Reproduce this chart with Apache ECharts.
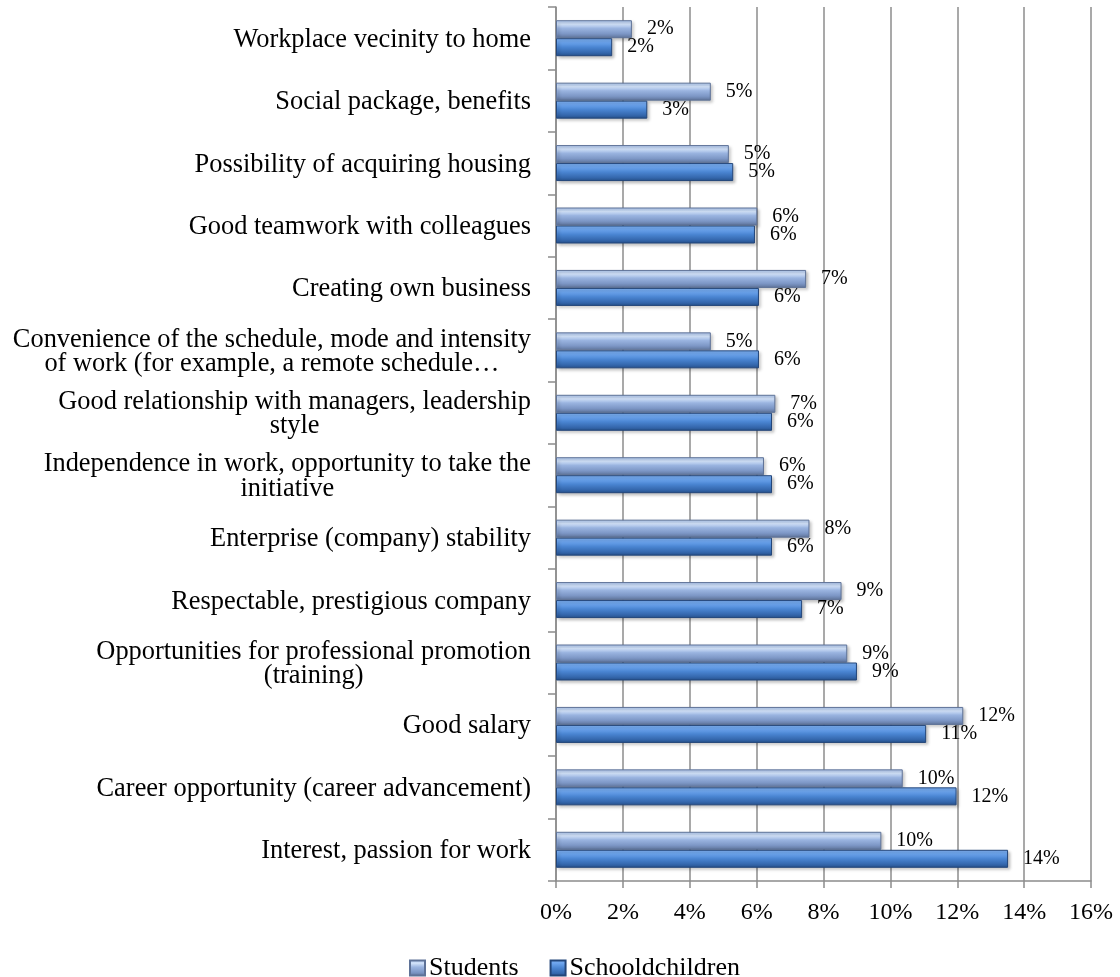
<!DOCTYPE html>
<html>
<head>
<meta charset="utf-8">
<title>Job motivation factors</title>
<script src="https://cdn.jsdelivr.net/npm/echarts@6/dist/echarts.min.js"></script>
<style>
  html, body { margin: 0; padding: 0; background: #ffffff; }
  #chart { width: 1120px; height: 977px; }
</style>
</head>
<body>
<div id="chart"></div>
<script>
// Factors, top to bottom
const categories = [
  'Workplace vecinity to home',
  'Social package, benefits',
  'Possibility of acquiring housing',
  'Good teamwork with colleagues',
  'Creating own business',
  'Convenience of the schedule, mode and intensity\nof work (for example, a remote schedule…',
  'Good relationship with managers, leadership\nstyle',
  'Independence in work, opportunity to take the\ninitiative',
  'Enterprise (company) stability',
  'Respectable, prestigious company',
  'Opportunities for professional promotion\n(training)',
  'Good salary',
  'Career opportunity (career advancement)',
  'Interest, passion for work'
];

// Share of respondents, %
const students = [2.27, 4.63, 5.17, 6.02, 7.48, 4.63, 6.56, 6.22, 7.58, 8.54, 8.71, 12.18, 10.37, 9.73];
const schoolchildren = [1.68, 2.73, 5.30, 5.95, 6.07, 6.07, 6.46, 6.46, 6.46, 7.36, 9.00, 11.07, 11.98, 13.52];

const seriesNames = ['Students', 'Schooldchildren'];

const FONT = '"Liberation Serif", "Times New Roman", serif';

function vGrad(stops) {
  return new echarts.graphic.LinearGradient(0, 0, 0, 1,
    stops.map(function (s) { return { offset: s[0], color: s[1] }; }));
}

const studentFill = vGrad([[0, '#a9c3ec'], [0.22, '#d3e3fa'], [0.45, '#9ab4e0'], [0.75, '#7d97c6'], [1, '#5d7298']]);
const schoolFill = vGrad([[0, '#7db0f2'], [0.22, '#6da5ee'], [0.5, '#4a85d2'], [0.8, '#3568ae'], [1, '#26508a']]);

const labelStyle = {
  show: true,
  position: 'right',
  distance: 15,
  fontFamily: FONT,
  fontSize: 20,
  color: '#000000',
  formatter: function (p) { return Math.round(p.value) + '%'; }
};

const chart = echarts.init(document.getElementById('chart'), null, { renderer: 'canvas' });

chart.setOption({
  animation: false,
  backgroundColor: '#ffffff',
  grid: { left: 556, right: 29, top: 7, bottom: 96, containLabel: false },
  legend: {
    data: seriesNames,
    top: 950,
    left: 404,
    itemWidth: 15,
    itemHeight: 15,
    itemGap: 31,
    icon: 'rect',
    textStyle: { fontFamily: FONT, fontSize: 26, color: '#000000', padding: [0, 0, 0, -1] }
  },
  xAxis: {
    type: 'value',
    min: 0,
    max: 16,
    interval: 2,
    axisLine: { show: true, lineStyle: { color: '#8c8c8c', width: 1.5 } },
    axisTick: { show: true, length: 7, lineStyle: { color: '#8c8c8c', width: 1.5 } },
    splitLine: { show: true, lineStyle: { color: '#8c8c8c', width: 1.5 } },
    axisLabel: {
      fontFamily: FONT,
      fontSize: 24,
      color: '#000000',
      margin: 20,
      formatter: '{value}%'
    }
  },
  yAxis: {
    type: 'category',
    inverse: true,
    data: categories,
    axisLine: { show: true, lineStyle: { color: '#8c8c8c', width: 1.5 } },
    axisTick: { show: true, length: 8, lineStyle: { color: '#8c8c8c', width: 1.5 } },
    splitLine: { show: false },
    axisLabel: {
      margin: 25,
      align: 'right',
      formatter: function (v) {
        return v.split('\n').map(function (line) { return '{c|' + line + '}'; }).join('\n');
      },
      rich: {
        c: { fontFamily: FONT, fontSize: 26.4, lineHeight: 24.5, color: '#000000', align: 'center', padding: [3, 0, 0, 0] }
      }
    }
  },
  series: [
    {
      name: seriesNames[0],
      type: 'bar',
      data: students,
      barWidth: 18,
      barGap: '0%',
      itemStyle: {
        color: studentFill,
        borderColor: '#5f7398',
        borderWidth: 1,
        shadowColor: 'rgba(0,0,0,0.25)',
        shadowBlur: 3,
        shadowOffsetX: 2,
        shadowOffsetY: 2
      },
      label: labelStyle
    },
    {
      name: seriesNames[1],
      type: 'bar',
      data: schoolchildren,
      barWidth: 18,
      barGap: '0%',
      itemStyle: {
        color: schoolFill,
        borderColor: '#23467a',
        borderWidth: 1,
        shadowColor: 'rgba(0,0,0,0.25)',
        shadowBlur: 3,
        shadowOffsetX: 2,
        shadowOffsetY: 2
      },
      label: labelStyle
    }
  ]
});
</script>
</body>
</html>
